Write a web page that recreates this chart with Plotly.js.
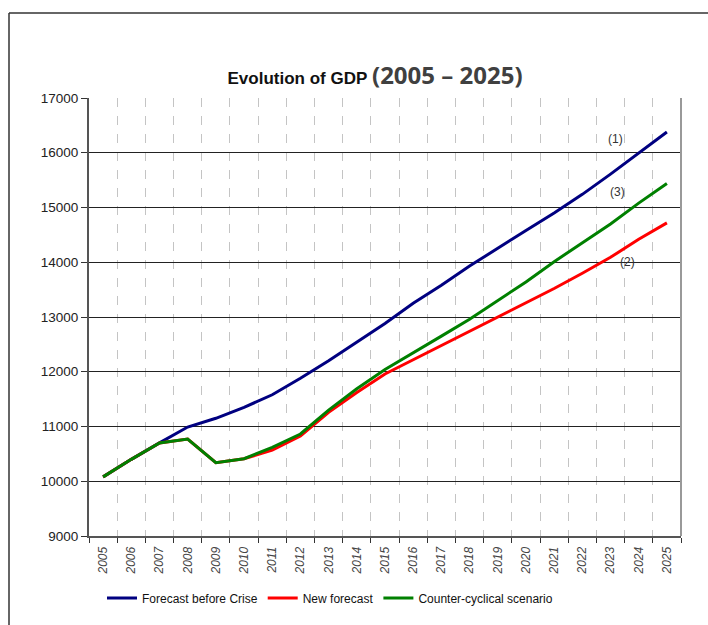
<!DOCTYPE html>
<html>
<head>
<meta charset="utf-8">
<script src="https://cdn.plot.ly/plotly-3.0.1.min.js"></script>
<style>html,body{margin:0;padding:0;background:#fff;}#chart{width:708px;height:625px;}</style>
</head>
<body>
<div id="chart"></div>
<script>
const years = ["2005","2006","2007","2008","2009","2010","2011","2012","2013","2014","2015","2016","2017","2018","2019","2020","2021","2022","2023","2024","2025"];
const forecastBeforeCrise = [10080,10400,10700,10990,11150,11350,11580,11880,12200,12540,12880,13250,13580,13930,14260,14580,14900,15240,15610,16000,16380];
const newForecast = [10080,10400,10700,10770,10340,10410,10570,10826,11260,11620,11960,12220,12480,12740,13000,13260,13520,13800,14090,14420,14720];
const counterCyclical = [10080,10400,10700,10770,10340,10412,10620,10863,11300,11690,12040,12340,12650,12960,13300,13640,14010,14360,14700,15080,15440];
const seriesNames = ["Forecast before Crise","New forecast","Counter-cyclical scenario"];
const seriesColors = ["#000080","#ff0000","#008000"];
const yTicks = [9000,10000,11000,12000,13000,14000,15000,16000,17000];

const L = 89, R = 681, T = 98, B = 536;
const px = x => (x - L) / (R - L);
const py = y => (B - y) / (B - T);

const traces = [forecastBeforeCrise, newForecast, counterCyclical].map((vals, i) => ({
  x: years, y: vals, type: 'scatter', mode: 'lines', name: seriesNames[i],
  line: {color: seriesColors[i], width: 3}
}));

const layout = {
  width: 708, height: 625,
  margin: {l: L, r: 708 - R, t: T, b: 625 - B},
  paper_bgcolor: '#fff', plot_bgcolor: '#fff',
  showlegend: true,
  font: {family: 'Liberation Sans, Arial, sans-serif', color: '#222'},
  title: {
    text: "<b>Evolution of GDP</b> <span style='font-family:Open Sans;font-size:24px;color:#404040'><b>(2005 – 2025)</b></span>",
    font: {family: 'Liberation Sans, Arial, sans-serif', size: 17, color: '#111'},
    x: 375 / 708, xanchor: 'center', xref: 'container',
    y: 1 - 78 / 625, yanchor: 'middle', yref: 'container'
  },
  xaxis: {
    type: 'category', categoryorder: 'array', categoryarray: years,
    range: [-0.5, 20.5], tickson: 'boundaries',
    showgrid: true, gridcolor: '#c4c4c4', griddash: 'dash', gridwidth: 1,
    showline: true, linecolor: '#555', linewidth: 2,
    ticks: 'outside', ticklen: 5, tickcolor: '#333', tickwidth: 1,
    tickangle: -90, ticklabelstandoff: 4,
    tickfont: {family: 'Liberation Sans, Arial, sans-serif', size: 12, color: '#444', style: 'italic'},
    fixedrange: true
  },
  yaxis: {
    range: [9000, 17000], tickvals: yTicks, tickformat: 'd',
    showgrid: true, gridcolor: '#222', gridwidth: 1, zeroline: false,
    showline: true, linecolor: '#555', linewidth: 2,
    ticks: 'outside', ticklen: 6, tickcolor: '#333',
    tickfont: {family: 'Liberation Sans, Arial, sans-serif', size: 13.5, color: '#222'},
    fixedrange: true
  },
  legend: {
    orientation: 'h', x: px(330), xanchor: 'center', y: py(598), yanchor: 'middle',
    font: {family: 'Liberation Sans, Arial, sans-serif', size: 12, color: '#111'},
    itemwidth: 30, tracegroupgap: 0
  },
  shapes: [
    {type: 'line', xref: 'paper', yref: 'paper', x0: 1, x1: 1, y0: 0, y1: 1, line: {color: '#999', width: 2}},
    {type: 'line', xref: 'paper', yref: 'paper', x0: px(9), x1: px(9), y0: py(13), y1: py(640), line: {color: '#333', width: 1.5}},
    {type: 'line', xref: 'paper', yref: 'paper', x0: px(9), x1: px(720), y0: py(13), y1: py(13), line: {color: '#333', width: 1.5}}
  ],
  annotations: [
    {text: '(1)', xref: 'paper', yref: 'paper', x: px(625), y: py(130), showarrow: false, font: {size: 12, color: '#333'}},
    {text: '(3)', xref: 'paper', yref: 'paper', x: px(627), y: py(183), showarrow: false, font: {size: 12, color: '#333'}},
    {text: '(2)', xref: 'paper', yref: 'paper', x: px(637), y: py(262), showarrow: false, font: {size: 12, color: '#333'}}
  ]
};

Plotly.newPlot('chart', traces, layout, {displayModeBar: false, staticPlot: true});
</script>
</body>
</html>
